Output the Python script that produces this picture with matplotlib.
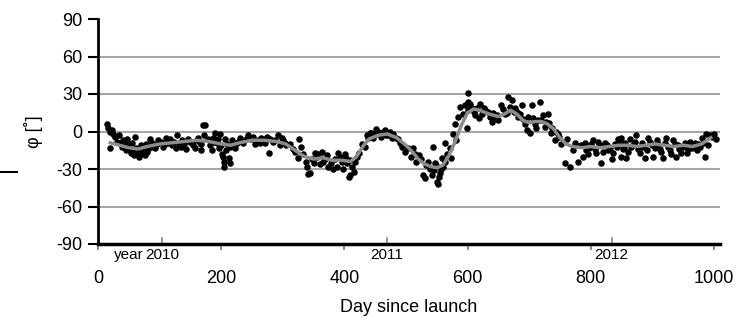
import numpy as np
import matplotlib
matplotlib.use("Agg")
import matplotlib.pyplot as plt
from matplotlib.lines import Line2D

plt.rcParams['font.family'] = ['Liberation Sans', 'DejaVu Sans']
plt.rcParams['axes.unicode_minus'] = False

# scatter points (day, phi)
day_a = [15, 17, 19, 20, 22, 25, 28, 31, 34, 36, 39, 41, 43, 45, 47, 49, 51, 53, 55, 57,
         59, 60, 62, 64, 66, 68, 70, 72, 74, 76, 78, 80, 82, 84, 86, 88, 90, 93, 96, 98]
phi_a = [6, 3, 0, -13, 1, -2, -4, -8, -3, -9, -12, -7, -11, -15, -6, -10, -14, -17, -9, -16,
         -19, -4, -13, -18, -20, -15, -11, -17, -13, -19, -10, -16, -14, -6, -12, -9, -11, -13, -10, -7]

day_b = [102, 105, 108, 111, 114, 117, 120, 123, 126, 129, 132, 134, 137, 140, 143, 146, 149,
         152, 155, 157, 160, 162, 165, 168, 170, 172]
phi_b = [-8, -12, -10, -5, -9, -6, -11, -8, -13, -3, -9, -12, -7, -10, -14, -6, -8,
         -9, -11, -13, -7, -5, -9, -10, 5, -3]

day_c = [168, 174, 179, 182, 185, 187, 188, 190, 193, 195, 197, 198, 199, 201, 203, 204, 205,
         206, 208, 209, 212, 214, 215, 217, 220, 222, 225, 228, 231, 236, 240, 244, 249, 252,
         255, 260, 263, 265, 268, 271, 274, 277, 279, 284, 288, 292, 295, 298, 300, 303, 306,
         311, 317, 320, 325, 327, 330, 333, 338, 341]
phi_c = [-15, 5, -6, -11, -15, -5, -8, -1, -9, -6, -13, -2, -11, -18, -20, -24, -28,
         -6, -15, -10, -21, -25, -12, -7, -10, -13, -9, -8, -5, -9, -6, -3, -6, -4,
         -10, -7, -9, -5, -6, -9, -4, -17, -6, -8, -7, -3, -11, -5, -7, -9, -11,
         -10, -14, -16, -21, -6, -12, -18, -24, -34]

day_d = [339, 344, 347, 350, 352, 355, 358, 360, 363, 366, 369, 372, 374, 378, 382, 385, 388,
         390, 393, 396, 398, 401, 403, 404, 407, 409, 410, 412, 415, 417, 420, 423, 428, 433,
         436, 439, 441, 444, 447, 449, 452, 455, 457, 460, 463, 466, 468, 471, 474, 477, 479,
         484, 487, 490, 494, 498, 503, 509, 515]
phi_d = [-28, -33, -22, -25, -17, -20, -18, -26, -16, -24, -22, -19, -28, -25, -30, -22, -28,
         -17, -20, -24, -30, -18, -21, -25, -36, -35, -23, -28, -32, -24, -20, -17, -10, -12,
         -3, -5, -1, -1, -5, -2, 2, 0, -2, -4, 0, 1, -3, -3, 0, -5, -2,
         -5, -6, -9, -12, -16, -13, -20, -18]

day_e = [512, 517, 521, 525, 528, 531, 533, 536, 539, 542, 544, 545, 547, 549, 550, 552, 553,
         555, 557, 558, 561, 563, 564, 566, 571, 574, 577, 580, 582, 585, 588, 593, 596, 599,
         600, 600, 601, 604, 607, 610, 612, 615, 618, 620, 623, 626, 629, 634, 636, 639, 642,
         645, 648, 650, 655, 658, 661, 664, 666, 669, 672, 675, 677, 682]
phi_e = [-13, -24, -19, -22, -35, -37, -27, -24, -30, -35, -12, -31, -25, -27, -40, -42, -36,
         -33, -30, -21, -28, -24, -9, -18, -13, -21, -2, 6, -7, 12, 20, 14, 21, 3,
         31, 17, 24, 22, 19, 16, 13, 19, 11, 22, 14, 19, 17, 16, 12, 8, 15,
         11, 13, 9, 21, 18, 14, 15, 28, 20, 25, 16, 19, 12]

day_f = [680, 685, 688, 690, 693, 696, 698, 701, 704, 707, 709, 712, 714, 717, 720, 723, 726,
         728, 731, 733, 736, 738, 742, 744, 747, 749, 752, 758, 761, 766, 771, 774, 779, 785,
         787, 790, 793, 796, 798, 801, 804, 807, 809, 812, 815, 817, 820, 823, 826, 828, 831,
         834, 837, 839, 842, 844, 847, 850, 854]
phi_f = [16, 14, 21, 10, 6, 1, 12, -1, 21, 11, 6, 3, 9, 24, 9, 13, 4,
         8, 14, 7, -1, 3, -7, 0, -2, -4, -10, -25, -6, -28, -15, -9, -24, -11,
         -20, -9, -15, -18, -13, -10, -7, -14, -17, -8, -11, -25, -16, -9, -11, -15, -13,
         -22, -17, -10, -12, -6, -9, -20, -13]

day_g = [850, 853, 856, 858, 861, 864, 866, 869, 872, 874, 877, 880, 883, 885, 888, 891, 893,
         896, 899, 901, 904, 907, 910, 912, 915, 918, 920, 923, 926, 928, 931, 934, 937, 939,
         942, 944, 947, 950, 953, 956, 958, 961, 964, 966, 969, 972, 974, 977, 980, 983, 985,
         988, 991, 993, 997, 1001, 1004]
phi_g = [-5, -14, -9, -21, -16, -6, -12, -11, -8, -3, -14, -17, -9, -12, -21, -15, -5,
         -8, -11, -20, -13, -7, -10, -14, -16, -21, -9, -5, -12, -15, -18, -7, -10, -20,
         -11, -14, -17, -12, -9, -17, -14, -8, -13, -12, -9, -15, -10, -12, -5, -9, -20,
         -2, -11, -3, -4, -2, -6]

days = day_a + day_b + day_c + day_d + day_e + day_f + day_g
phi = phi_a + phi_b + phi_c + phi_d + phi_e + phi_f + phi_g

# smoothed curve (gray)
fit_day = [20, 35, 50, 65, 80, 100, 120, 140, 160, 180, 200, 215, 230, 250, 270, 290, 305,
           320, 335, 350, 365, 380, 395, 410, 420, 430, 440, 455, 470, 485, 500, 510, 520,
           530, 540, 550, 560, 570, 580, 590, 600, 610, 620, 635, 650, 660, 670, 680, 690,
           700, 710, 720, 730, 740, 750, 760, 770, 785, 800, 815, 830, 845, 860, 875, 890,
           905, 920, 935, 950, 965, 980, 995]
fit_phi = [-9, -11, -13, -14, -12, -10, -9, -8, -7, -8, -10, -11, -9, -7, -7, -8, -10,
           -15, -20, -22, -21, -23, -23, -24, -20, -12, -6, -3, -2, -5, -11, -16, -22,
           -26, -28, -29, -27, -19, -8, 5, 15, 18, 17, 14, 12, 14, 17, 14, 9,
           7, 8, 8, 6, 2, -5, -10, -12, -13, -12, -13, -12, -11, -11, -12, -11,
           -10, -11, -12, -11, -12, -10, -5]

year_pos = [104, 469, 834]
year_labels = ['2010', '2011', '2012']

fig = plt.figure(figsize=(7.43, 3.24), dpi=100)
ax = fig.add_axes([98 / 743, 1 - 244 / 324, (720 - 98) / 743, 225 / 324])

for g in [-60, -30, 0, 30, 60]:
    ax.axhline(g, color='#a6a6a6', lw=1.5, zorder=0)

ax.scatter(days, phi, s=22, color='black', zorder=2, linewidths=0)
ax.plot(fit_day, fit_phi, color='#8c8c8c', lw=2.5, zorder=3)

ax.set_xlim(0, 1010)
ax.set_ylim(-90, 90)
ax.set_yticks([-90, -60, -30, 0, 30, 60, 90])
ax.set_xticks([0, 200, 400, 600, 800, 1000])
ax.tick_params(axis='y', direction='out', length=7, width=1.5, labelsize=13, pad=4)
ax.tick_params(axis='x', direction='out', length=4, width=1.2, color='#777777',
               labelsize=13, pad=15)
for s in ['top', 'right']:
    ax.spines[s].set_visible(False)
ax.spines['left'].set_linewidth(2)
ax.spines['bottom'].set_linewidth(2.5)

# year markers inside the axis
trans = ax.get_xaxis_transform()
for xp, lab in zip(year_pos, year_labels):
    ax.plot([xp, xp], [0, 0.025], transform=trans, color='#888888', lw=1.2, clip_on=False)
    ax.text(xp, -0.05, lab, transform=trans, ha='center', va='center', fontsize=11)
ax.text(year_pos[0] - 30, -0.05, 'year', transform=trans, ha='right', va='center', fontsize=11)

ax.set_xlabel('Day since launch', fontsize=13, labelpad=8)
ax.set_ylabel('φ [˚]', fontsize=13, labelpad=10)

fig.add_artist(Line2D([0, 17 / 743], [1 - 172 / 324, 1 - 172 / 324], color='black', lw=1.5))

fig.savefig('out.png', dpi=100)
